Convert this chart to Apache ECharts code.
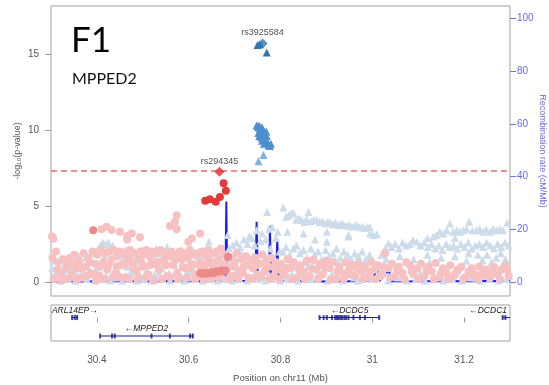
<!DOCTYPE html>
<html>
<head>
<meta charset="utf-8">
<script src="https://cdn.jsdelivr.net/npm/echarts@6/dist/echarts.min.js"></script>
<style>
  html, body { margin: 0; padding: 0; background: #fff; }
  #chart { width: 549px; height: 385px; }
</style>
</head>
<body>
<div id="chart"></div>
<script>
// region shown on chr11 (Mb)
const xMin = 30.3
const xMax = 31.3
const xTicks = [30.4, 30.6, 30.8, 31, 31.2]
const pTicks = [0, 5, 10, 15]
const recTicks = [0, 20, 40, 60, 80, 100]
const sigLine = 7.3

// low LD snps, other set (light blue triangles) [pos, -log10 p]
const lowTriangles = [
  [30.302,0.9],[30.306,1.4],[30.310,0.3],[30.314,1.1],[30.318,0.6],[30.322,1.6],[30.326,0.2],[30.330,1.2],[30.334,0.8],[30.338,1.5],
  [30.342,0.4],[30.347,1.0],[30.351,1.3],[30.355,0.5],[30.360,1.7],[30.364,0.9],[30.368,1.2],[30.372,0.3],[30.376,1.6],[30.380,1.0],
  [30.385,0.6],[30.389,1.4],[30.393,1.9],[30.397,0.8],[30.401,2.1],[30.404,1.2],[30.407,2.4],[30.410,0.5],[30.413,2.6],[30.416,1.7],
  [30.419,2.5],[30.422,0.9],[30.425,2.6],[30.428,2.3],[30.431,1.4],[30.434,2.4],[30.437,0.7],[30.441,1.9],[30.445,1.2],[30.449,2.0],
  [30.453,0.4],[30.457,1.6],[30.461,2.1],[30.465,1.0],[30.469,1.8],[30.473,0.6],[30.477,1.5],[30.481,2.0],[30.485,1.1],[30.489,1.7],
  [30.493,0.3],[30.497,2.1],[30.501,1.3],[30.505,1.9],[30.509,0.8],[30.513,2.0],[30.517,1.2],[30.521,1.8],[30.525,0.5],[30.529,2.2],
  [30.533,1.4],[30.537,1.9],[30.541,0.9],[30.545,2.0],[30.549,1.5],[30.553,2.3],[30.557,0.6],[30.561,1.7],[30.565,2.0],[30.569,1.1],
  [30.573,1.8],[30.577,0.4],[30.581,1.6],[30.585,2.1],[30.589,1.0],[30.593,1.9],[30.597,0.7],[30.601,1.5],[30.605,2.2],[30.609,1.2],
  [30.613,1.9],[30.617,0.5],[30.621,1.7],[30.625,2.0],[30.629,1.3],[30.633,1.8],[30.637,0.8],[30.641,2.1],[30.644,2.65],[30.648,1.6],
  [30.652,1.1],[30.656,1.9],[30.660,0.6],[30.664,2.0],[30.668,1.4],[30.672,2.2],[30.676,1.0],[30.680,1.8],[30.685,3.1],[30.688,2.2],
  [30.692,1.3],[30.696,2.4],[30.700,1.6],[30.704,2.6],[30.708,0.9],[30.712,2.3],[30.716,1.8],[30.720,2.8],[30.724,1.2],[30.728,2.5],
  [30.732,3.0],[30.737,2.9],[30.740,1.7],[30.744,2.4],[30.748,3.4],[30.752,1.4],[30.756,2.7],[30.760,3.2],[30.764,1.9],[30.768,2.8],
  [30.771,4.6],[30.775,3.5],[30.778,2.2],[30.782,3.6],[30.786,1.6],[30.790,2.9],[30.794,3.3],[30.798,2.0],
  [30.806,4.9],[30.812,4.3],[30.818,4.4],[30.823,4.5],[30.828,4.56],[30.834,4.1],[30.840,4.2],[30.846,4.1],[30.852,3.95],[30.857,4.15],
  [30.861,4.6],[30.866,4.0],[30.872,4.1],[30.879,4.1],[30.885,3.95],[30.891,4.0],[30.897,3.85],[30.903,3.95],[30.908,3.9],[30.914,3.8],
  [30.920,3.9],[30.926,3.75],[30.932,3.85],[30.937,3.8],[30.943,3.7],[30.949,3.75],[30.955,3.65],[30.961,3.7],[30.966,3.75],[30.972,3.6],
  [30.978,3.65],[30.984,3.55],[30.990,3.6],[30.995,3.6],
  [30.850,3.2],[30.901,3.3],[30.948,3.1],[30.995,3.2],[31.010,3.15],[30.815,3.3],[30.875,2.8],[30.901,2.65],[30.948,3.0],[31.002,3.1],
  [30.805,2.0],[30.812,2.3],[30.820,1.8],[30.828,2.2],[30.835,2.4],[30.842,1.9],[30.850,2.1],[30.858,1.6],[30.866,2.2],[30.874,1.8],
  [30.882,2.0],[30.890,1.5],[30.898,2.1],[30.906,1.7],[30.914,1.9],[30.922,2.2],[30.930,1.6],[30.938,2.0],[30.946,1.8],[30.954,1.5],
  [30.962,1.9],[30.970,1.7],[30.978,2.0],[30.986,1.5],[30.994,1.8],[31.002,1.4],
  [30.808,0.9],[30.818,0.4],[30.830,1.1],[30.845,0.6],[30.860,1.0],[30.878,0.3],[30.895,0.8],[30.912,0.5],[30.928,1.1],[30.944,0.7],
  [30.960,0.3],[30.976,0.9],[30.992,0.6],[31.008,1.0],
  [31.020,1.8],[31.028,2.2],[31.035,2.55],[31.042,2.3],[31.050,2.5],[31.058,2.2],[31.066,2.6],[31.074,2.4],[31.082,2.5],[31.089,2.75],
  [31.097,2.65],[31.105,2.4],[31.113,2.6],[31.121,2.3],[31.129,2.5],[31.137,2.2],[31.145,2.4],[31.153,2.1],[31.161,2.5],[31.169,2.3],
  [31.177,2.4],[31.185,2.2],[31.193,2.5],[31.201,2.3],[31.209,2.6],[31.217,2.2],[31.225,2.4],[31.233,2.5],[31.241,2.3],[31.249,2.6],
  [31.257,2.4],[31.265,2.2],[31.273,2.5],[31.281,2.3],[31.289,2.6],[31.297,2.4],
  [31.133,3.0],[31.140,3.1],[31.147,3.3],[31.155,3.2],[31.162,3.4],[31.169,3.85],[31.176,3.3],[31.184,3.4],[31.191,3.3],[31.198,3.4],
  [31.205,3.5],[31.211,3.97],[31.218,3.4],[31.227,3.4],[31.234,3.5],[31.241,3.3],[31.248,3.45],[31.256,3.3],[31.263,3.5],[31.270,3.4],
  [31.278,3.5],[31.285,3.4],[31.294,3.9],
  [31.120,2.9],[31.180,2.9],[31.240,1.45],[31.260,1.3],[31.230,1.8],[31.270,1.6],[31.290,1.5],
  [31.025,0.7],[31.045,1.2],[31.065,0.4],[31.085,1.0],[31.105,0.6],[31.125,1.3],[31.145,0.5],[31.165,1.1],[31.185,0.8],[31.205,1.4],
  [31.225,0.3],[31.245,0.9],[31.265,0.6],[31.285,1.1],[31.298,0.4],
  [30.822,1.4],[30.856,1.3],[30.888,1.1],[30.920,1.4],[30.950,1.2],[30.982,1.3],[31.030,1.5],[31.060,1.7],[31.090,1.5],[31.120,1.8],
  [31.150,1.6],[31.180,1.7],[31.210,1.9],[31.250,1.8],[31.280,1.9],
  [30.303,0.3],[30.312,0.7],[30.320,0.1],[30.329,0.5],[30.337,0.2],[30.345,0.8],[30.353,0.1],[30.362,0.4],[30.370,0.7],[30.378,0.2],
  [30.387,0.5],[30.395,0.1],[30.403,0.6],[30.412,0.2],[30.420,0.4],[30.429,0.1],[30.439,0.3],[30.447,0.6],[30.455,0.1],[30.463,0.4],
  [30.471,0.2],[30.479,0.7],[30.487,0.1],[30.495,0.4],[30.503,0.2],[30.511,0.5],[30.519,0.1],[30.527,0.3],[30.535,0.6],[30.543,0.2],
  [30.551,0.4],[30.559,0.1],[30.567,0.5],[30.575,0.2],[30.583,0.4],[30.591,0.1],[30.599,0.3],[30.607,0.6],[30.615,0.2],[30.623,0.4],
  [30.631,0.1],[30.639,0.3],[30.647,0.2],[30.655,0.4],[30.663,0.1],[30.671,0.3],[30.679,0.2],[30.687,0.5],[30.695,0.1],[30.703,0.4],
  [30.711,0.2],[30.719,0.6],[30.727,0.1],[30.735,0.3],[30.743,0.5],[30.751,0.2],[30.759,0.4],[30.767,0.1],[30.775,0.5],[30.783,0.2],
  [30.791,0.4],[30.799,0.1],[30.813,0.2],[30.825,0.5],[30.838,0.1],[30.852,0.3],[30.866,0.2],[30.884,0.5],[30.903,0.1],[30.920,0.3],
  [30.936,0.1],[30.952,0.5],[30.968,0.1],[30.984,0.3],[31.000,0.2],[31.015,0.4],[31.035,0.1],[31.055,0.3],[31.075,0.1],[31.095,0.2],
  [31.115,0.1],[31.135,0.3],[31.155,0.1],[31.175,0.2],[31.195,0.1],[31.215,0.3],[31.235,0.1],[31.255,0.2],[31.275,0.1],[31.292,0.2]
]

// low LD snps (pink circles)
const lowCircles = [
  [30.302,3.0],[30.305,2.85],[30.311,2.0],[30.303,1.6],[30.316,1.3],[30.321,0.6],[30.326,1.5],[30.331,0.2],[30.336,1.1],[30.341,1.6],
  [30.346,0.5],[30.351,1.8],[30.356,0.9],[30.361,1.4],[30.366,0.3],[30.371,1.9],[30.376,1.0],[30.381,1.6],[30.386,0.6],[30.391,2.0],
  [30.396,1.2],[30.410,3.47],[30.421,3.64],[30.432,3.42],[30.450,3.3],[30.466,3.03],[30.476,3.2],[30.494,2.94],[30.466,2.8],
  [30.401,1.8],[30.405,0.4],[30.409,2.1],[30.414,1.3],[30.418,1.9],[30.423,0.8],[30.427,2.0],[30.432,1.5],[30.436,2.1],[30.441,0.6],
  [30.445,1.7],[30.450,2.0],[30.454,1.1],[30.459,1.9],[30.463,0.3],[30.468,1.6],[30.472,2.1],[30.477,1.2],[30.481,1.9],[30.486,0.7],
  [30.490,1.5],[30.495,2.0],[30.499,1.0],[30.503,1.8],[30.508,2.1],[30.512,0.5],[30.517,1.6],[30.521,2.0],[30.526,1.2],[30.530,1.9],
  [30.535,0.8],[30.539,2.1],[30.544,1.4],[30.548,1.9],[30.553,0.4],[30.557,1.7],[30.562,2.0],[30.566,1.1],[30.571,1.8],[30.575,0.6],
  [30.580,2.0],[30.584,1.5],[30.589,1.9],[30.593,0.9],[30.598,1.6],[30.602,2.1],[30.607,1.2],[30.611,1.8],[30.616,0.5],[30.620,1.9],
  [30.625,1.3],[30.629,2.0],[30.634,1.0],[30.638,1.7],[30.643,2.1],[30.647,1.3],[30.652,1.9],[30.656,0.9],[30.661,2.0],[30.665,1.5],
  [30.670,2.2],[30.674,1.1],[30.679,1.8],
  [30.559,3.68],[30.570,3.97],[30.574,4.4],[30.574,3.47],[30.599,2.65],[30.607,2.87],[30.625,3.2],
  [30.685,0.9],[30.690,1.6],[30.695,0.4],[30.700,1.3],[30.705,1.9],[30.710,0.7],[30.715,1.5],[30.720,1.0],[30.725,1.7],[30.730,0.3],
  [30.735,1.4],[30.740,0.9],[30.745,1.6],[30.750,0.5],[30.755,1.2],[30.760,1.8],[30.765,0.7],[30.770,1.4],[30.775,1.0],[30.780,1.6],
  [30.785,0.4],[30.790,1.3],[30.795,0.8],
  [30.801,1.2],[30.808,0.5],[30.815,1.5],[30.822,0.9],[30.829,1.3],[30.836,0.3],[30.843,1.1],[30.850,0.7],[30.857,1.4],[30.864,0.4],
  [30.871,1.45],[30.878,0.8],[30.885,1.2],[30.892,0.5],[30.900,1.4],[30.907,0.9],[30.914,1.3],[30.921,0.2],[30.928,1.0],[30.935,0.6],
  [30.942,1.3],[30.949,0.8],[30.956,1.1],[30.963,0.4],[30.970,1.2],[30.977,0.7],[30.984,1.0],[30.991,0.3],[30.998,1.3],[31.005,0.8],
  [31.012,1.1],[31.020,0.5],[31.028,1.9],[31.035,0.9],[31.043,1.2],[31.050,0.4],[31.058,1.0],[31.066,0.6],[31.074,1.3],[31.082,1.1],
  [31.090,0.5],[31.098,0.9],[31.106,1.2],[31.114,0.4],[31.122,1.0],[31.130,0.7],[31.138,1.25],[31.146,0.3],[31.154,0.9],[31.162,0.6],
  [31.170,1.1],[31.178,0.4],[31.186,0.8],[31.194,1.0],[31.202,0.3],[31.210,0.7],[31.217,0.9],[31.225,0.5],[31.233,1.0],[31.241,0.6],
  [31.249,0.8],[31.257,0.3],[31.265,1.0],[31.273,0.5],[31.281,0.8],[31.289,1.1],[31.297,0.4],
  [30.306,0.2],[30.314,0.8],[30.323,0.1],[30.333,0.9],[30.343,0.3],[30.349,1.2],[30.358,0.2],[30.368,0.9],[30.378,0.4],[30.383,1.3],
  [30.393,0.5],[30.399,0.1],[30.407,1.0],[30.416,0.2],[30.425,1.1],[30.434,0.3],[30.443,1.0],[30.452,0.3],[30.461,1.2],[30.470,0.2],
  [30.479,0.9],[30.488,0.2],[30.497,1.3],[30.506,0.3],[30.515,1.1],[30.524,0.1],[30.533,1.3],[30.542,0.2],[30.551,1.1],[30.560,0.3],
  [30.569,1.4],[30.578,0.2],[30.587,1.0],[30.596,0.3],[30.605,0.9],[30.614,0.2],[30.623,1.1],[30.632,0.2],[30.641,1.2],[30.650,0.2],
  [30.659,1.3],[30.668,0.3],[30.677,1.2],[30.688,0.2],[30.698,1.0],[30.708,0.2],[30.718,0.6],[30.728,1.1],[30.738,0.2],[30.748,1.1],
  [30.758,0.3],[30.768,1.0],[30.778,0.2],[30.788,0.9],[30.798,0.2],[30.811,0.9],[30.826,0.2],[30.840,0.8],[30.854,0.2],[30.868,0.9],
  [30.882,0.2],[30.896,1.0],[30.910,0.2],[30.924,0.7],[30.938,0.2],[30.952,0.5],[30.966,0.9],[30.980,0.2],[30.994,0.7],[31.008,0.2],
  [31.024,1.0],[31.039,0.3],[31.054,0.8],[31.070,0.2],[31.086,0.7],[31.102,0.2],[31.118,0.8],[31.134,0.2],[31.150,0.6],[31.166,0.2],
  [31.182,0.6],[31.198,0.2],[31.214,0.5],[31.230,0.2],[31.246,0.4],[31.262,0.7],[31.278,0.2],[31.294,0.8]
]

// moderate LD with rs294345 (salmon circles)
const midCircles = [
  [30.392,3.4],[30.625,0.6],[30.630,0.55],[30.635,0.6],[30.640,0.55],[30.645,0.6],[30.650,0.65],[30.655,0.6],[30.660,0.7],
  [30.665,0.7],[30.670,0.75],[30.675,0.7],[30.680,0.75],[30.686,1.66]
]

// high LD with rs294345 (red circles)
const highCircles = [[30.636,5.35],[30.646,5.44],[30.659,5.28],[30.668,5.6],[30.676,6.5],[30.681,6.0]]

// second signal around rs3925584 (blue triangles)
const topTriangles = [[30.750,15.6],[30.755,15.65],[30.770,15.1]]
const clusterTriangles = [
  [30.748,10.3],[30.751,10.2],[30.753,10.3],[30.755,10.1],[30.757,9.9],[30.759,10.2],[30.761,9.8],[30.763,10.0],[30.765,9.7],
  [30.752,9.8],[30.754,9.6],[30.758,9.5],[30.762,9.4],[30.766,9.5],[30.768,9.3],[30.770,9.6],[30.772,9.2],[30.774,9.0],
  [30.777,8.95],[30.760,9.3],[30.764,9.1],[30.756,9.7],[30.769,9.9],[30.779,9.1]
]
const lightTriangles = [[30.752,7.95],[30.763,8.35]]

// index snps
const leadNames = ['rs294345', 'rs3925584']
const leadPos = [30.667, 30.761]
const leadLogp = [7.26, 15.7]
const leadColors = ['#e4262b', '#2f74b5']

// recombination rate (cM/Mb)
const recomb = [
  [30.300,0.2],[30.350,0.3],[30.400,0.2],[30.450,0.4],[30.500,0.2],[30.550,0.3],[30.600,0.4],[30.650,0.3],[30.680,0.5],
  [30.682,30.5],[30.684,0.6],[30.700,0.4],[30.745,0.5],[30.748,22.9],[30.751,0.4],[30.760,1.0],[30.775,2.0],[30.777,21.3],
  [30.779,3.0],[30.790,1.5],[30.793,16.2],[30.796,0.5],[30.820,0.3],[30.850,0.4],[30.900,0.2],[30.950,0.3],[31.000,0.4],
  [31.012,6.0],[31.015,0.4],[31.037,4.5],[31.040,0.3],[31.100,0.2],[31.150,0.4],[31.200,0.3],[31.250,0.4],[31.300,0.3]
]

// genes
const geneNames = ['ARL14EP', 'MPPED2', 'DCDC5', 'DCDC1']
const geneStart = [30.345, 30.407, 30.884, 31.283]
const geneEnd = [30.359, 30.609, 31.017, 31.340]
const geneStrand = ['+', '-', '-', '-']
const geneRow = [0, 1, 0, 0]
const exonPos = [
  30.346, 30.352, 30.357,
  30.407, 30.433, 30.439, 30.519, 30.559, 30.603, 30.609,
  30.885, 30.894, 30.901, 30.912, 30.919, 30.923, 30.926, 30.930, 30.934, 30.939, 30.943, 30.948, 30.959, 30.973, 30.984, 31.015,
  31.284, 31.290
]
const exonRow = [0, 0, 0, 1, 1, 1, 1, 1, 1, 1, 0, 0, 0, 0, 0, 0, 0, 0, 0, 0, 0, 0, 0, 0, 0, 0, 0, 0]

const chart = echarts.init(document.getElementById('chart'))

const FONT = '"Liberation Sans", Arial, sans-serif'
const geneColor = '#1c1c8a'

function scatter (name, data, symbol, size, color, z) {
  return {
    name: name,
    type: 'scatter',
    xAxisIndex: 0,
    yAxisIndex: 0,
    symbol: symbol,
    symbolSize: size,
    itemStyle: { color: color, opacity: 1 },
    silent: true,
    z: z,
    data: data
  }
}

const leadData = leadNames.map((n, i) => ({
  value: [leadPos[i], leadLogp[i]],
  name: n,
  itemStyle: { color: leadColors[i] }
}))

const geneData = geneNames.map((n, i) => [geneStart[i], geneEnd[i], geneRow[i], i])
const exonData = exonPos.map((p, i) => [p, exonRow[i]])

chart.setOption({
  animation: false,
  backgroundColor: '#fff',
  textStyle: { fontFamily: FONT },
  grid: [
    { left: 51, top: 6, width: 459, height: 290, show: true, borderColor: '#a3a3a3', borderWidth: 1, outerBoundsMode: 'none', containLabel: false },
    { left: 51, top: 305, width: 459, height: 36, show: true, borderColor: '#a3a3a3', borderWidth: 1, outerBoundsMode: 'none', containLabel: false }
  ],
  xAxis: [
    {
      gridIndex: 0, type: 'value', min: xMin, max: xMax,
      axisLine: { show: false }, axisTick: { show: false }, axisLabel: { show: false }, splitLine: { show: false }
    },
    {
      gridIndex: 1, type: 'value', min: xMin, max: xMax,
      axisLine: { show: false },
      axisTick: { show: true, length: 5, lineStyle: { color: '#999' }, customValues: xTicks },
      axisLabel: { color: '#555', fontSize: 10, margin: 14, customValues: xTicks, fontFamily: FONT },
      splitLine: { show: false },
      name: 'Position on chr11 (Mb)',
      nameLocation: 'middle',
      nameGap: 32,
      nameMoveOverlap: false,
      nameTextStyle: { color: '#555', fontSize: 9.5, fontFamily: FONT }
    }
  ],
  yAxis: [
    {
      gridIndex: 0, type: 'value', min: -0.92, max: 18.16,
      axisLine: { show: false },
      axisTick: { show: true, length: 6, lineStyle: { color: '#999' }, customValues: pTicks },
      axisLabel: { color: '#555', fontSize: 10, margin: 12, customValues: pTicks, fontFamily: FONT },
      splitLine: { show: false },
      name: '-log\u2081\u2080(p-value)',
      nameLocation: 'middle',
      nameRotate: 90,
      nameGap: 29,
      nameMoveOverlap: false,
      nameTextStyle: { color: '#555', fontSize: 9, fontFamily: FONT }
    },
    {
      gridIndex: 0, type: 'value', position: 'right', min: -5.3, max: 104.7,
      axisLine: { show: false },
      axisTick: { show: true, length: 6, lineStyle: { color: '#6f6ff5' }, customValues: recTicks },
      axisLabel: { color: '#6868f0', fontSize: 10, margin: 7, customValues: recTicks, fontFamily: FONT },
      splitLine: { show: false },
      name: 'Recombination rate (cM/Mb)',
      nameLocation: 'middle',
      nameRotate: -90,
      nameGap: 28,
      nameMoveOverlap: false,
      nameTextStyle: { color: '#6868f0', fontSize: 9, fontFamily: FONT }
    },
    {
      gridIndex: 1, type: 'value', min: -0.68, max: 1.27, inverse: true,
      axisLine: { show: false }, axisTick: { show: false }, axisLabel: { show: false }, splitLine: { show: false }
    }
  ],
  series: [
    {
      name: 'recomb',
      type: 'line',
      xAxisIndex: 0,
      yAxisIndex: 1,
      showSymbol: false,
      silent: true,
      z: 1,
      lineStyle: { color: '#1f1ff0', width: 2 },
      data: recomb
    },
    scatter('low-tri', lowTriangles, 'triangle', 8, '#cddcea', 2),
    scatter('low-circ', lowCircles, 'circle', 8, '#f7c1c1', 3),
    scatter('mid-circ', midCircles, 'circle', 8, '#ef8888', 4),
    Object.assign(scatter('high-circ', highCircles, 'circle', 8, '#e43a3a', 5), {
      markLine: {
        silent: true,
        symbol: 'none',
        label: { show: false },
        lineStyle: { color: '#f06a6a', type: [6, 4], width: 1.5 },
        data: [{ yAxis: sigLine }]
      }
    }),
    scatter('light-tri', lightTriangles, 'triangle', 8, '#7eb1de', 5),
    scatter('cluster-tri', clusterTriangles, 'triangle', 8, '#4e8fcd', 5),
    scatter('top-tri', topTriangles, 'triangle', 8, '#2f74b5', 5),
    {
      name: 'lead',
      type: 'scatter',
      xAxisIndex: 0,
      yAxisIndex: 0,
      symbol: 'diamond',
      symbolSize: 10,
      silent: true,
      z: 6,
      label: {
        show: true,
        position: 'top',
        distance: 1,
        formatter: p => p.name,
        color: '#222',
        fontSize: 9,
        fontFamily: FONT
      },
      data: leadData
    },
    {
      name: 'genes',
      type: 'custom',
      xAxisIndex: 1,
      yAxisIndex: 2,
      silent: true,
      clip: false,
      renderItem: function (params, api) {
        const cs = params.coordSys
        const right = cs.x + cs.width
        const a = api.coord([api.value(0), api.value(2)])
        const b = api.coord([api.value(1), api.value(2)])
        const i = api.value(3)
        const name = geneStrand[i] === '+' ? geneNames[i] + '\u2192' : '\u2190' + geneNames[i]
        const x2 = Math.min(b[0], right)
        const w = name.length * 5.3
        let cx = (a[0] + x2) / 2
        let align = 'center'
        if (cx + w / 2 > right - 2) { cx = right - 3; align = 'right' }
        if (cx - w / 2 < cs.x + 2) { cx = cs.x + 3; align = 'left' }
        return {
          type: 'group',
          children: [
            {
              type: 'line',
              shape: { x1: a[0], y1: a[1], x2: x2, y2: b[1] },
              style: { stroke: geneColor, lineWidth: 1 }
            },
            {
              type: 'text',
              x: cx,
              y: a[1] - 2.5,
              style: {
                text: name,
                fill: '#222',
                font: 'italic 8.5px ' + FONT,
                align: align,
                verticalAlign: 'bottom'
              }
            }
          ]
        }
      },
      data: geneData
    },
    {
      name: 'exons',
      type: 'scatter',
      xAxisIndex: 1,
      yAxisIndex: 2,
      symbol: 'rect',
      symbolSize: [2, 5],
      silent: true,
      itemStyle: { color: geneColor },
      data: exonData
    }
  ],
  graphic: [
    { type: 'text', left: 71, top: 23, style: { text: 'F1', font: '35px Lato, "Open Sans", sans-serif', fill: '#000' } },
    { type: 'text', left: 72, top: 71, style: { text: 'MPPED2', font: '16px Lato, "Open Sans", sans-serif', fill: '#111' } }
  ]
})
</script>
</body>
</html>
